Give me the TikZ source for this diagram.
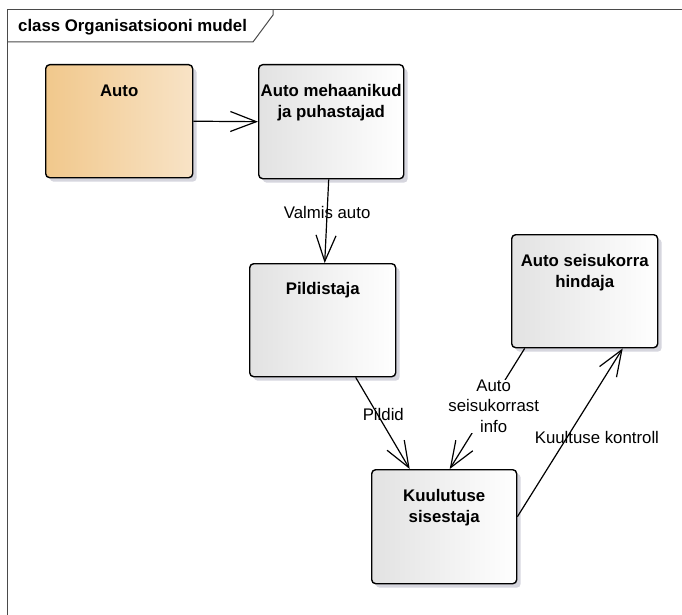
\documentclass[tikz,border=0pt]{standalone}
\usepackage{fontspec}
\setmainfont{Liberation Sans}
\usetikzlibrary{arrows.meta,shadows}
\definecolor{shadowc}{HTML}{D6D6DE}
\definecolor{grayl}{HTML}{E2E2E2}
\definecolor{orangel}{HTML}{F1C88C}
\definecolor{oranger}{HTML}{F8E3C6}
\definecolor{framec}{HTML}{4A4A4A}
\begin{document}
\begin{tikzpicture}[x=1pt,y=-1pt,
  boxbase/.style={draw=black, line width=1.4pt, rounded corners=4pt, anchor=north west,
    inner sep=0pt, general shadow={fill=shadowc, shadow xshift=4pt, shadow yshift=-4pt}},
  graybox/.style={boxbase, left color=grayl, right color=white},
  orangebox/.style={boxbase, left color=orangel, right color=oranger},
  boxtext/.style={font=\fontsize{16.8}{21}\selectfont\bfseries, align=center, inner sep=0pt},
  conn/.style={line width=1.2pt, -{Straight Barb[length=26pt,width=20pt,line width=1.2pt]}},
  lbl/.style={font=\fontsize{16.8}{20.5}\selectfont, align=center, inner sep=0pt}]
\useasboundingbox (0,0) rectangle (682,615);
% frame
\draw[framec, line width=1pt] (7,615) -- (7,10) -- (682,10);
\draw[framec, line width=1pt] (7,42) -- (253,42) -- (273,15) -- (273,10);
\node[font=\fontsize{16.8}{20}\selectfont\bfseries, anchor=west, inner sep=0pt] (title) at (18,27) {class Organisatsiooni mudel};
% boxes
\node[orangebox, minimum width=147pt, minimum height=113pt] (auto) at (45,64) {};
\node[graybox, minimum width=145pt, minimum height=114pt] (meh) at (258,64) {};
\node[graybox, minimum width=146pt, minimum height=113pt] (pild) at (249,263) {};
\node[graybox, minimum width=146pt, minimum height=113pt] (hind) at (511,234) {};
\node[graybox, minimum width=145pt, minimum height=114pt] (kuul) at (371,469) {};
% box texts
\node[boxtext] (tauto) at ([yshift=-27pt]auto.north) {Auto};
\node[boxtext] (tmeh) at ([yshift=-38.5pt]meh.north) {Auto mehaanikud\\ja puhastajad};
\node[boxtext] (tpild) at ([yshift=-27pt]pild.north) {Pildistaja};
\node[boxtext] (thind) at ([yshift=-38.5pt]hind.north) {Auto seisukorra\\hindaja};
\node[boxtext] (tkuul) at ([yshift=-38.5pt]kuul.north) {Kuulutuse\\sisestaja};
% connectors
\draw[conn] (auto.east) -- (meh.west);
\draw[conn] ([xshift=-2.5pt]meh.south) -- node[lbl, pos=0.4] (l1) {Valmis auto} ([xshift=2pt]pild.north);
\draw[conn] ([xshift=33pt]pild.south) -- node[lbl, pos=0.4, xshift=6pt] (l2) {Pildid} ([xshift=-34.5pt]kuul.north);
\draw[conn] ([xshift=-60pt]hind.south) -- node[lbl, pos=0.48, xshift=5pt, fill=white] (l3) {Auto\\seisukorrast\\info} ([xshift=5.5pt]kuul.north);
\draw[conn] ([yshift=10pt]kuul.east) -- node[lbl, pos=0.47, xshift=30pt] (l4) {Kuultuse kontroll} ([xshift=38pt]hind.south);
\end{tikzpicture}
\end{document}
